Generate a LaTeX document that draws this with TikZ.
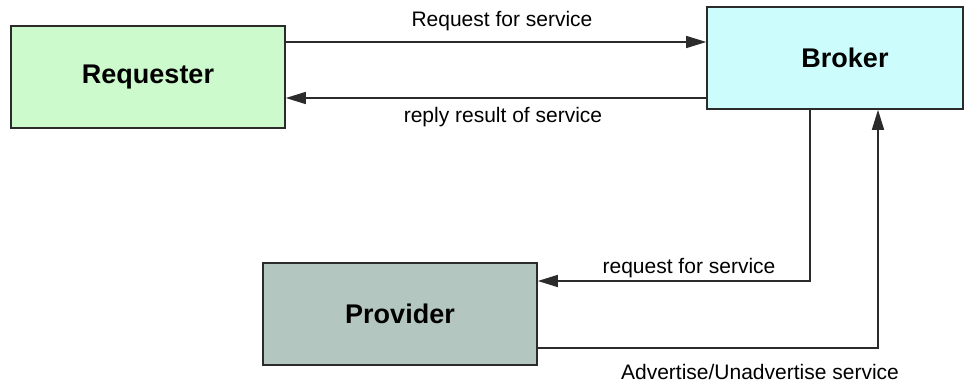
\documentclass[tikz,border=0pt]{standalone}
\usepackage{fontspec}
\setmainfont{Liberation Sans}
\usetikzlibrary{arrows.meta}
\definecolor{reqfill}{HTML}{CCFACC}
\definecolor{brkfill}{HTML}{CCFCFC}
\definecolor{provfill}{HTML}{B3C7C0}
\definecolor{ink}{HTML}{2B2B2B}
\begin{document}
\begin{tikzpicture}[x=1pt,y=-1pt,
  agent/.style={draw=ink,line width=1.6pt,minimum width=274pt,minimum height=102pt,
    inner sep=0pt,font=\fontsize{27}{32}\selectfont\bfseries},
  flow/.style={draw=ink,line width=1.5pt,-{Triangle[length=20pt,width=12pt]}},
  msg/.style={anchor=base,inner sep=0pt,font=\fontsize{21}{25}\selectfont}]
  \useasboundingbox (0,0) rectangle (967,385);

  % the three parties
  \node[agent,fill=reqfill] (req) at (148,77) {Requester};
  \node[agent,fill=brkfill,minimum width=256pt] (brk) at (835,58) {\hspace*{20pt}Broker};
  \node[agent,fill=provfill] (prov) at (400,314) {Provider};

  % requester <-> broker
  \draw[flow] ([yshift=35pt]req.east) -- ([yshift=35pt]req.east -| brk.west);
  \draw[flow] ([yshift=-40pt]brk.west) -- ([yshift=-40pt]brk.west -| req.east);

  % broker <-> provider
  \draw[flow] ([xshift=-25pt]brk.south) |- ([yshift=33pt]prov.east);
  \draw[flow] ([yshift=-34pt]prov.east) -| ([xshift=43pt]brk.south);

  % message labels
  \node[msg] (l1) at (502,27) {Request for service};
  \node[msg] (l2) at (503,123) {reply result of service};
  \node[msg] (l3) at (689,273) {request for service};
  \node[msg] (l4) at (760,379) {Advertise/Unadvertise service};
\end{tikzpicture}
\end{document}
